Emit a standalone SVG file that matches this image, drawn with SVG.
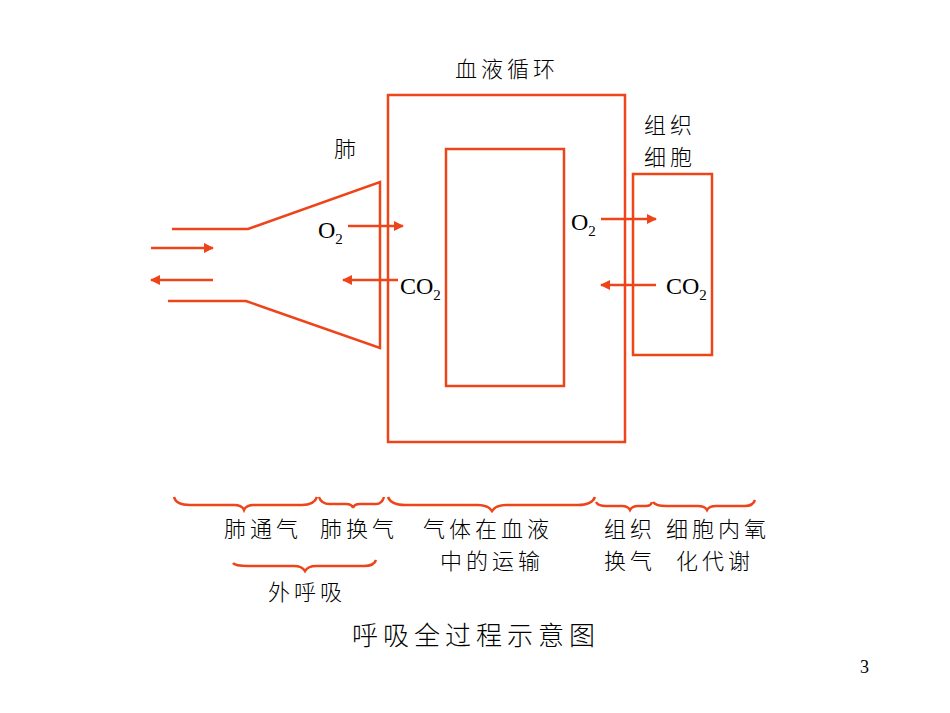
<svg xmlns="http://www.w3.org/2000/svg" width="950" height="713" viewBox="0 0 950 713">
<style>
.s{fill:none;stroke:#EE4419;stroke-width:2.5}
.b{fill:none;stroke:#EE4419;stroke-width:2.5}
.t{font-family:"Noto Sans CJK SC",sans-serif;font-size:22px;font-weight:300;fill:#000;letter-spacing:4px}
.r{font-family:"Liberation Serif",serif;font-size:24px;fill:#000}
.sub{font-size:15px}
</style>
<defs><marker id="a" viewBox="0 0 10 10" refX="9" refY="5" markerWidth="4" markerHeight="4" orient="auto"><path d="M0,0 L10,5 L0,10 z" fill="#EE4419"/></marker></defs>
<rect width="950" height="713" fill="#fff"/>
<g id="lung"><path class="s" d="M172,229 H248 L380,182 V348 L246,301 H168"/></g>
<g id="blood"><rect class="s" x="388" y="95" width="237" height="347"/><rect class="s" x="446" y="149" width="118" height="237"/></g>
<g id="tissue"><rect class="s" x="633" y="174" width="79" height="181"/></g>
<g id="connectors">
<line class="s" x1="151" y1="248" x2="213" y2="248" marker-end="url(#a)"/>
<line class="s" x1="213" y1="280" x2="151" y2="280" marker-end="url(#a)"/>
<line class="s" x1="348" y1="226" x2="403" y2="226" marker-end="url(#a)"/>
<line class="s" x1="398" y1="280" x2="343" y2="280" marker-end="url(#a)"/>
<line class="s" x1="601" y1="219" x2="656" y2="219" marker-end="url(#a)"/>
<line class="s" x1="656" y1="285" x2="601" y2="285" marker-end="url(#a)"/>
</g>
<g id="braces">
<path class="b" d="M174,497 Q176,505 190,505 H234 Q242,505 244,510 Q246,505 254,505 H302 Q314,505 317,497"/>
<path class="b" d="M319,497 Q321,504 330,504 H346 Q352,504 353,508 Q354,504 360,504 H376 Q382,504 384,497"/>
<path class="b" d="M388,497 Q391,505 405,505 H478 Q488,505 492,511 Q496,505 506,505 H578 Q592,505 595,497"/>
<path class="b" d="M596,502 Q598,506 606,506 H622 Q628,506 630,510 Q632,506 638,506 H646 Q651,506 652,502"/>
<path class="b" d="M653,502 Q656,506 666,506 H698 Q705,506 707,510 Q709,506 716,506 H745 Q753,506 755,500"/>
<path class="b" d="M233,563 Q235,566 248,566 H294 Q302,566 305,571 Q308,566 316,566 H364 Q374,566 376,560"/>
</g>
<g id="labels">
<text class="t" x="455" y="77">血液循环</text>
<text class="t" x="334" y="157">肺</text>
<text class="t" x="644" y="133">组织</text>
<text class="t" x="644" y="165">细胞</text>
<text class="r" x="318" y="238">O<tspan class="sub" dy="6">2</tspan></text>
<text class="r" x="400" y="294">CO<tspan class="sub" dy="6">2</tspan></text>
<text class="r" x="571" y="230">O<tspan class="sub" dy="6">2</tspan></text>
<text class="r" x="666" y="294">CO<tspan class="sub" dy="6">2</tspan></text>
<text class="t" x="224" y="537">肺通气</text>
<text class="t" x="320" y="537">肺换气</text>
<text class="t" x="423" y="537">气体在血液</text>
<text class="t" x="440" y="569">中的运输</text>
<text class="t" x="604" y="537">组织</text>
<text class="t" x="604" y="569">换气</text>
<text class="t" x="666" y="537">细胞内氧</text>
<text class="t" x="676" y="569">化代谢</text>
<text class="t" x="268" y="600">外呼吸</text>
<text class="t" x="352" y="645" style="font-size:26px;letter-spacing:5px">呼吸全过程示意图</text>
<text class="r" x="860" y="673" style="font-size:18px">3</text>
</g>
</svg>
